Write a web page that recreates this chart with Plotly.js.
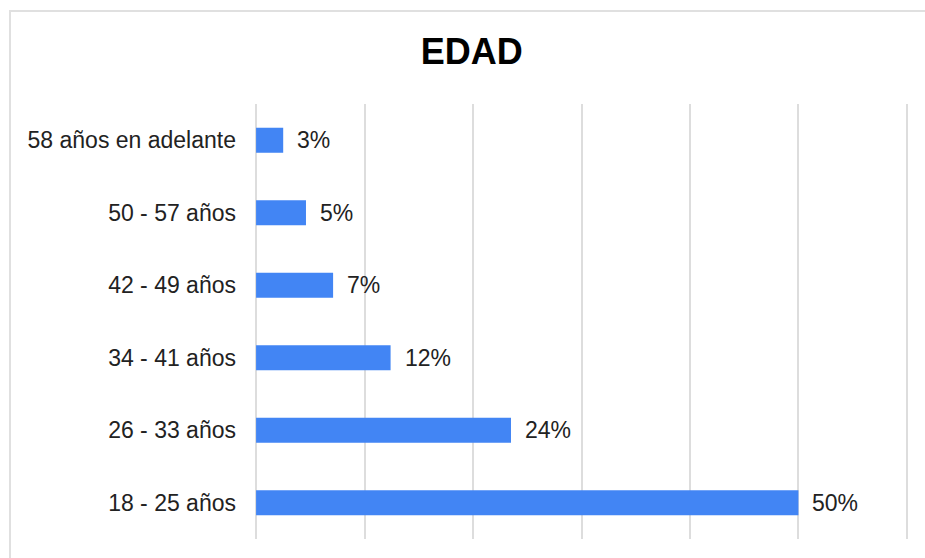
<!DOCTYPE html>
<html>
<head>
<meta charset="utf-8">
<script src="https://cdn.plot.ly/plotly-3.0.1.min.js"></script>
<style>
  html, body { margin: 0; padding: 0; background: #fff; }
  #wrap { position: relative; width: 925px; height: 558px; overflow: hidden; }
  #frame { position: absolute; left: 9px; top: 10px; width: 1000px; height: 700px;
           border-left: 2px solid #e0e0e0; border-top: 2px solid #e0e0e0; pointer-events: none; }
  #chart { position: absolute; left: 0; top: 0; width: 925px; height: 558px; }
</style>
</head>
<body>
<div id="wrap">
  <div id="chart"></div>
  <div id="frame"></div>
</div>
<script>
const categories = ["18 - 25 años", "26 - 33 años", "34 - 41 años", "42 - 49 años", "50 - 57 años", "58 años en adelante"];
const values = [50, 23.5, 12.4, 7.1, 4.6, 2.5];
const labels = ["50%", "24%", "12%", "7%", "5%", "3%"];

const font = "Liberation Sans, Arial, sans-serif";

const trace = {
  type: "bar",
  orientation: "h",
  y: categories,
  x: values,
  width: 0.345,
  marker: { color: "#4285f4" },
  hoverinfo: "none"
};

const annotations = categories.map((c, i) => ({
  x: values[i],
  y: c,
  xref: "x",
  yref: "y",
  text: labels[i],
  showarrow: false,
  xanchor: "left",
  yanchor: "middle",
  xshift: 12,
  font: { family: font, size: 23, color: "#222222" }
}));

const layout = {
  width: 925,
  height: 558,
  margin: { l: 255, r: 17, t: 104, b: 19, pad: 0 },
  paper_bgcolor: "#ffffff",
  plot_bgcolor: "#ffffff",
  showlegend: false,
  title: {
    text: "<b>EDAD</b>",
    font: { family: font, size: 36, color: "#000000" },
    x: 0.51,
    xanchor: "center",
    y: 0.907,
    yanchor: "middle"
  },
  xaxis: {
    range: [-0.1, 60.1],
    tick0: 0,
    dtick: 10,
    showgrid: true,
    gridcolor: "#dddddd",
    gridwidth: 2,
    zeroline: true,
    zerolinecolor: "#dddddd",
    zerolinewidth: 2,
    showticklabels: false,
    showline: false,
    fixedrange: true
  },
  yaxis: {
    type: "category",
    categoryorder: "array",
    categoryarray: categories,
    showgrid: false,
    zeroline: false,
    showline: false,
    ticks: "",
    ticklabelstandoff: 18,
    tickfont: { family: font, size: 23, color: "#222222" },
    fixedrange: true
  },
  annotations: annotations
};

Plotly.newPlot("chart", [trace], layout, { displayModeBar: false, staticPlot: true });
</script>
</body>
</html>
